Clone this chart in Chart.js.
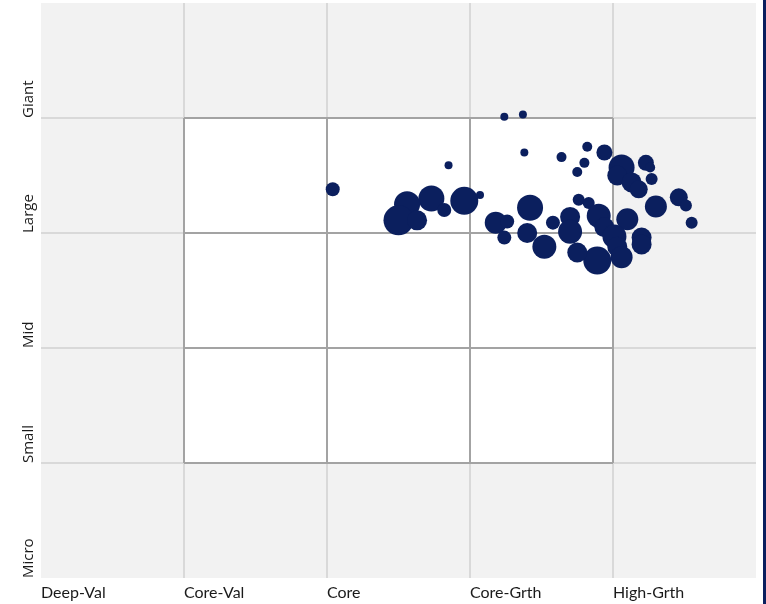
<!DOCTYPE html>
<html>
<head>
<meta charset="utf-8">
<script src="https://cdn.jsdelivr.net/npm/chart.js@4/dist/chart.umd.min.js"></script>
<style>
  html, body { margin: 0; padding: 0; background: #ffffff; }
  #wrap { position: relative; width: 766px; height: 604px; overflow: hidden; }
  #edge { position: absolute; left: 763px; top: 0; width: 3px; height: 604px; background: #0b1f5e; }
</style>
</head>
<body>
<div id="wrap">
  <canvas id="myChart" width="766" height="604"></canvas>
  <div id="edge"></div>
</div>
<script>
// Axis labels
var styleLabels = ['Deep-Val', 'Core-Val', 'Core', 'Core-Grth', 'High-Grth'];
var sizeLabels = ['Micro', 'Small', 'Mid', 'Large', 'Giant'];

// Holdings: style score (x), size score (y), bubble radius
var styleScore = [2.04, 2.85, 3.07, 2.96, 2.73, 2.82, 2.56, 2.50, 2.63,
    3.24, 3.37, 3.38, 3.64, 3.82, 3.80, 3.75, 3.94, 4.06, 4.03, 4.13, 4.18,
    4.23, 4.26, 4.27, 4.30, 4.46, 4.51, 4.55, 4.10, 4.20, 4.20, 3.76, 3.83,
    3.70, 3.90, 3.94, 4.01, 4.03, 4.06, 3.89, 3.75, 3.70, 3.42, 3.18, 3.26,
    3.24, 3.40, 3.52, 3.58];
var sizeScore = [3.38, 3.59, 3.33, 3.28, 3.30, 3.20, 3.25, 3.11, 3.11,
    4.01, 4.03, 3.70, 3.66, 3.75, 3.61, 3.53, 3.70, 3.57, 3.50, 3.44, 3.38,
    3.61, 3.57, 3.47, 3.23, 3.31, 3.24, 3.09, 3.12, 2.96, 2.90, 3.29, 3.26,
    3.14, 3.15, 3.05, 2.97, 2.88, 2.79, 2.76, 2.83, 3.01, 3.22, 3.09, 3.10,
    2.96, 3.00, 2.88, 3.09];
var weight = [7, 4, 4, 14, 13, 7, 13, 15, 10,
    4, 4, 4, 5, 5, 5, 5, 8, 13, 10, 10, 9,
    8, 5, 6, 11, 9, 6, 6, 11, 10, 10, 6, 6,
    10, 12, 10, 12, 10, 11, 14, 10, 12, 13, 11, 7,
    7, 10, 12, 7];

var points = styleScore.map(function(x, i) {
    return { x: x, y: sizeScore[i], r: weight[i] };
});

// Gray plot background
var plotBackground = {
    id: 'plotBackground',
    beforeDraw: function(chart) {
        var a = chart.chartArea;
        var ctx = chart.ctx;
        ctx.save();
        ctx.fillStyle = '#f2f2f2';
        ctx.fillRect(a.left, a.top, a.right - a.left, a.bottom - a.top);
        ctx.restore();
    }
};

// White 3x3 style box with gray borders
var styleBox = {
    id: 'styleBox',
    beforeDatasetsDraw: function(chart) {
        var xs = chart.scales.x;
        var ys = chart.scales.y;
        var ctx = chart.ctx;
        var x1 = xs.getPixelForValue(1), x4 = xs.getPixelForValue(4);
        var y1 = ys.getPixelForValue(1), y4 = ys.getPixelForValue(4);
        ctx.save();
        ctx.fillStyle = '#ffffff';
        ctx.fillRect(x1, y4, x4 - x1, y1 - y4);
        ctx.strokeStyle = '#a3a3a3';
        ctx.lineWidth = 2;
        ctx.beginPath();
        for (var i = 1; i <= 4; i++) {
            var px = xs.getPixelForValue(i);
            ctx.moveTo(px, y4);
            ctx.lineTo(px, y1);
            var py = ys.getPixelForValue(i);
            ctx.moveTo(x1, py);
            ctx.lineTo(x4, py);
        }
        ctx.stroke();
        ctx.restore();
    }
};

function gridColor(ctx) {
    var v = ctx.tick ? ctx.tick.value : 0;
    return (v === 0 || v === 5) ? 'rgba(0,0,0,0)' : '#d9d9d9';
}

var ctx = document.getElementById('myChart').getContext('2d');
var myChart = new Chart(ctx, {
    type: 'bubble',
    data: {
        datasets: [{
            label: 'Holdings',
            data: points,
            backgroundColor: '#0b1f5e',
            borderWidth: 0
        }]
    },
    options: {
        responsive: false,
        animation: false,
        layout: { autoPadding: false, padding: { top: 3, right: 10, bottom: 0, left: 21 } },
        plugins: {
            legend: { display: false },
            tooltip: { enabled: false }
        },
        scales: {
            x: {
                type: 'linear',
                min: 0,
                max: 5,
                border: { display: false },
                grid: { color: gridColor, lineWidth: 2, drawTicks: false },
                afterFit: function(s) {
                    s.height = 26;
                    s.paddingLeft = 0;
                    s.paddingRight = 0;
                },
                ticks: {
                    stepSize: 1,
                    align: 'start',
                    padding: 5,
                    maxRotation: 0,
                    color: '#1a1a1a',
                    font: { family: 'Lato', size: 16 },
                    callback: function(value) { return styleLabels[value] || ''; }
                }
            },
            y: {
                type: 'linear',
                min: 0,
                max: 5,
                border: { display: false },
                grid: { color: gridColor, lineWidth: 2, drawTicks: false },
                afterFit: function(s) {
                    s.width = 20;
                    s.paddingTop = 0;
                    s.paddingBottom = 0;
                },
                ticks: {
                    stepSize: 1,
                    minRotation: 90,
                    maxRotation: 90,
                    crossAlign: 'far',
                    align: 'start',
                    color: '#1a1a1a',
                    font: { family: 'Open Sans', size: 15 },
                    callback: function(value) { return sizeLabels[value] || ''; }
                }
            }
        }
    },
    plugins: [plotBackground, styleBox]
});
</script>
</body>
</html>
